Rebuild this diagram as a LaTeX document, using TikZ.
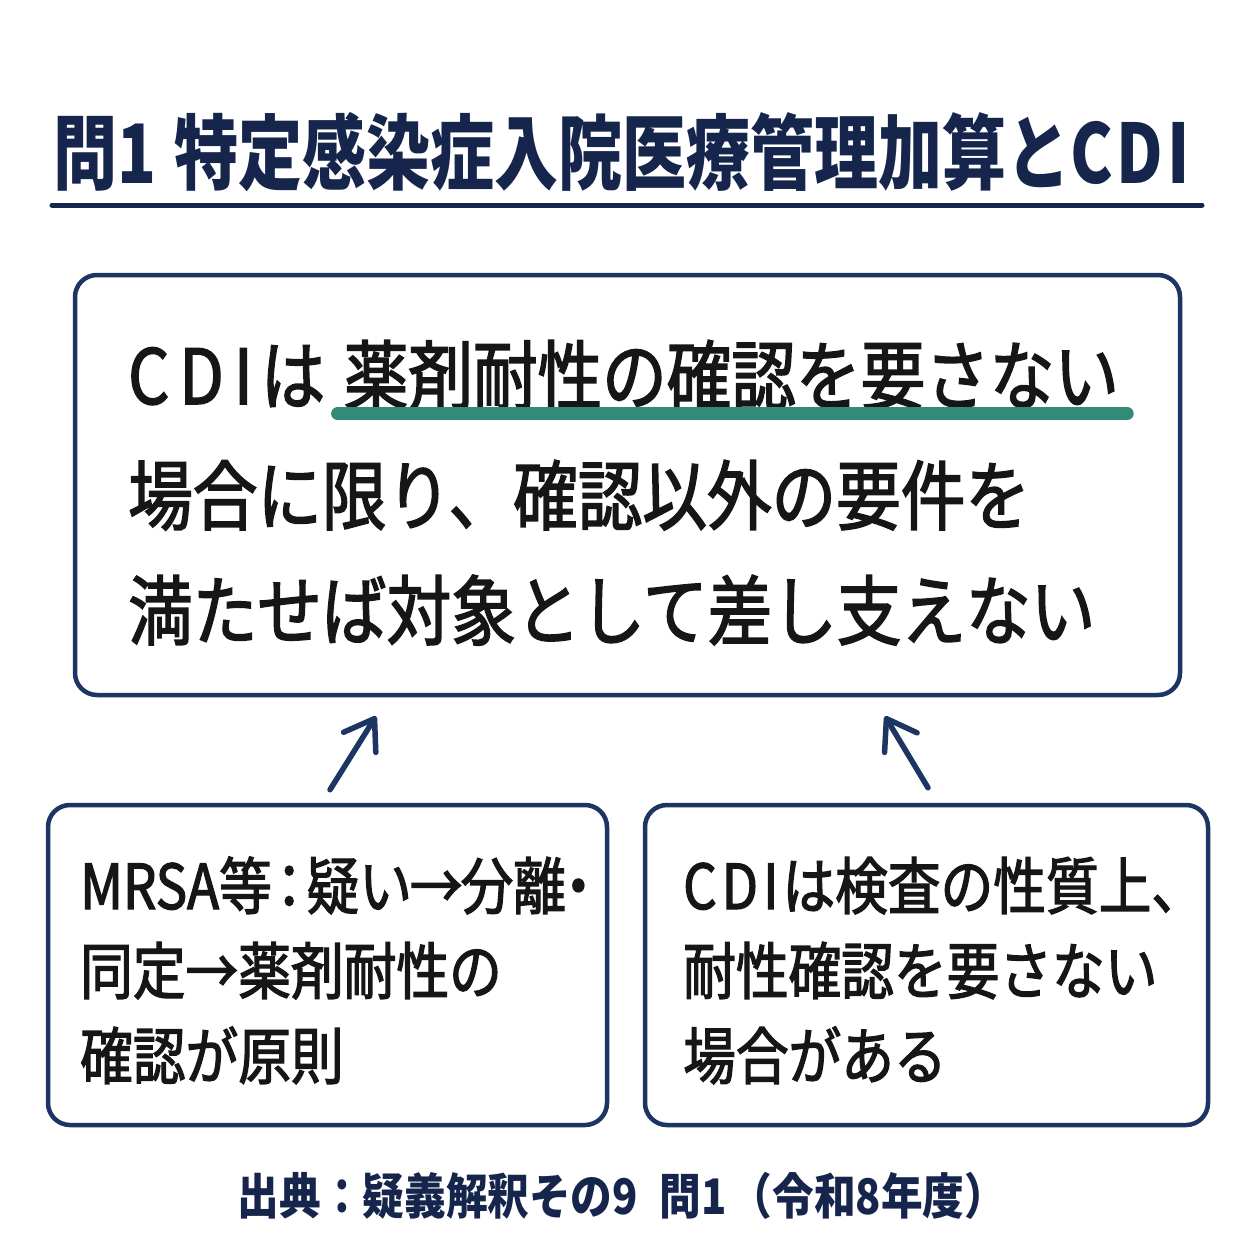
\documentclass[tikz,border=0pt]{standalone}
\usepackage{fontspec}
\newfontfamily\jp[FakeStretch=0.85,FakeBold=2]{Noto Sans CJK JP}
\newfontfamily\jpt[FakeStretch=0.78]{Noto Sans CJK JP}
\newfontfamily\jpf[FakeStretch=0.85]{Noto Sans CJK JP}
\usetikzlibrary{arrows.meta,calc}
\definecolor{navy}{HTML}{1C3563}
\definecolor{titlenavy}{HTML}{16254C}
\definecolor{ink}{HTML}{161616}
\definecolor{hlgreen}{HTML}{348A78}
\tikzset{
  box/.style={draw=navy, line width=4.5pt, rounded corners=22pt, inner sep=0pt},
  titletext/.style={font=\jpt\bfseries\fontsize{82}{96}\selectfont, text=titlenavy, inner sep=0pt, anchor=base},
  maintext/.style={font=\jp\fontsize{76}{90}\selectfont, text=ink, inner sep=0pt, anchor=base west},
  subtext/.style={font=\jp\fontsize{62}{80}\selectfont, text=ink, inner sep=0pt, anchor=base west},
  foottext/.style={font=\jpf\bfseries\fontsize{49}{60}\selectfont, text=titlenavy, inner sep=0pt, anchor=base},
  arr/.style={draw=navy, line width=5.5pt, line cap=round, line join=round,
    -{Straight Barb[length=28pt,width=38pt,line cap=round,line join=round]}},
  hl/.style={draw=hlgreen, line width=13pt, line cap=round}
}
\begin{document}
\begin{tikzpicture}[x=1pt,y=-1pt]
\fill[white] (0,0) rectangle (1254,1254);
\useasboundingbox (0,0) rectangle (1254,1254);
% title
\node[titletext] (title) at (622,183) {問1\hspace{18pt}特定感染症入院医療管理加算とC\hspace{4pt}D\hspace{4pt}I};
\coordinate (ruleL) at (52,205);
\coordinate (ruleR) at (1202,205);
\draw[draw=titlenavy, line width=5pt, line cap=round] (ruleL) -- (ruleR);
% main box
\node[box, minimum width=1105pt, minimum height=420pt] (mainbox) at (627.5,485) {};
\node[maintext] (m1a) at (128,404) {C\hspace{10pt}D\hspace{10pt}I\hspace{8pt}は};
\node[maintext] (m1b) at ([xshift=18pt]m1a.base east) {薬剤耐性の確認を要さない};
\draw[hl] ($(m1b.south west)+(-6,3)$) -- ($(m1b.south east)+(8,3)$);
\node[maintext] (m2) at (128,524) {場合に限り、確認以外の要件を};
\node[maintext] (m3) at (128,639) {満たせば対象として差し支えない};
% bottom boxes
\node[box, minimum width=559pt, minimum height=320pt] (lbox) at (327.5,965) {};
\node[box, minimum width=563pt, minimum height=320pt] (rbox) at (926.5,965) {};
\node[subtext] (l1) at (80,909) {MRSA等\kern-9pt：\kern-9pt疑い\kern-2pt→\kern-2pt分離\kern-14pt・};
\node[subtext] (l2) at (80,994) {同定→薬剤耐性の};
\node[subtext] (l3) at (80,1079) {確認が原則};
\node[subtext] (r1) at (683,909) {C\hspace{5pt}D\hspace{5pt}I\hspace{4pt}は検査の性質上、};
\node[subtext] (r2) at (683,994) {耐性確認を要さない};
\node[subtext] (r3) at (683,1079) {場合がある};
% arrows
\draw[arr] ([shift={(2.5,-13)}]lbox.north) -- ([shift={(-251.5,19)}]mainbox.south);
\draw[arr] ([shift={(1.5,-15)}]rbox.north) -- ([shift={(257.5,19)}]mainbox.south);
% footer
\node[foottext] (foot) at (622,1214) {出典：疑義解釈その9\hspace{22pt}問1\hspace{4pt}（令和8年度）};
\end{tikzpicture}
\end{document}
